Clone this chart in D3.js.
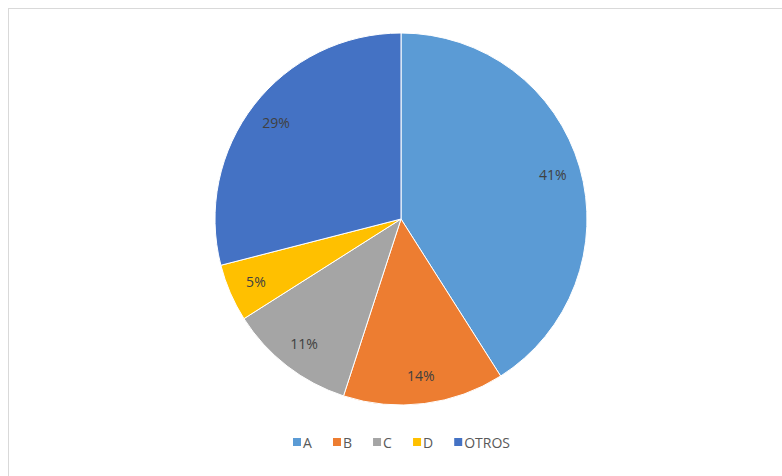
<!DOCTYPE html>
<html>
<head>
<meta charset="utf-8">
<script src="https://cdn.jsdelivr.net/npm/d3@7"></script>
<style>
  html, body { margin: 0; padding: 0; background: #ffffff; }
  svg { display: block; font-family: "Open Sans", "Liberation Sans", sans-serif; }
</style>
</head>
<body>
<svg id="chart" width="782" height="476"></svg>
<script>
// Share of each category (percent)
const categories = ["A", "B", "C", "D", "OTROS"];
const shares = [41, 14, 11, 5, 29];
const sliceColors = ["#5B9BD5", "#ED7D31", "#A5A5A5", "#FFC000", "#4472C4"];

const svg = d3.select("#chart");

// Chart area frame
svg.append("rect")
  .attr("x", 8.5).attr("y", 8.5)
  .attr("width", 820).attr("height", 520)
  .attr("fill", "#ffffff")
  .attr("stroke", "#d9d9d9")
  .attr("stroke-width", 1);

const cx = 401, cy = 219, radius = 186;

const color = d3.scaleOrdinal().domain(categories).range(sliceColors);

const pie = d3.pie().sort(null).value(d => d.value);
const data = categories.map((c, i) => ({ name: c, value: shares[i] }));
const arcs = pie(data);

const arc = d3.arc().innerRadius(0).outerRadius(radius);
const labelArc = d3.arc().innerRadius(radius * 0.85).outerRadius(radius * 0.85);

const g = svg.append("g").attr("transform", `translate(${cx},${cy})`);

g.selectAll("path.slice")
  .data(arcs)
  .join("path")
  .attr("class", "slice")
  .attr("d", arc)
  .attr("fill", d => color(d.data.name))
  .attr("stroke", "#ffffff")
  .attr("stroke-width", 1);

g.selectAll("text.pct")
  .data(arcs)
  .join("text")
  .attr("class", "pct")
  .attr("transform", d => `translate(${labelArc.centroid(d)})`)
  .attr("text-anchor", "middle")
  .attr("dominant-baseline", "central")
  .attr("font-size", 14)
  .attr("fill", "#404040")
  .text(d => d.data.value + "%");

// Legend along the bottom
const legend = svg.append("g").attr("transform", "translate(0,442)");
const items = legend.selectAll("g.item")
  .data(categories)
  .join("g")
  .attr("class", "item");

items.append("rect")
  .attr("width", 8).attr("height", 8)
  .attr("y", -4)
  .attr("fill", d => color(d));

items.append("text")
  .attr("x", 10)
  .attr("dominant-baseline", "central")
  .attr("font-size", 14)
  .attr("fill", "#595959")
  .text(d => d);

// Lay the legend items out side by side
let xPos = 293;
const gap = 21;
items.each(function () {
  const w = this.getBBox().width;
  d3.select(this).attr("transform", `translate(${xPos},0)`);
  xPos += w + gap;
});
</script>
</body>
</html>
